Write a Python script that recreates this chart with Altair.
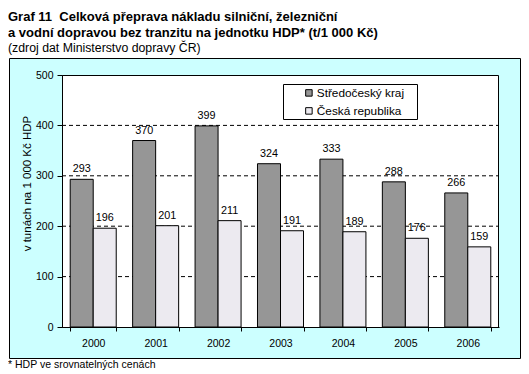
import altair as alt
import pandas as pd

years = ["2000", "2001", "2002", "2003", "2004", "2005", "2006"]
series_names = ["Středočeský kraj", "Česká republika"]
stredocesky = [293, 370, 399, 324, 333, 288, 266]
cr = [196, 201, 211, 191, 189, 176, 159]
grid_vals = [100, 200, 300, 400]
y_ticks = [0, 100, 200, 300, 400, 500]

title_lines = [
    "Graf 11\u00a0 Celková přeprava nákladu silniční, železniční",
    "a vodní dopravou bez tranzitu na jednotku HDP* (t/1 000 Kč)",
]
subtitle = "(zdroj dat Ministerstvo dopravy ČR)"
footnote = "* HDP ve srovnatelných cenách"
y_title = "v tunách na 1 000 Kč HDP"

FONT = "Liberation Sans"

rows = []
for i, y in enumerate(years):
    rows.append({"rok": y, "serie": series_names[0], "hodnota": stredocesky[i]})
    rows.append({"rok": y, "serie": series_names[1], "hodnota": cr[i]})
df = pd.DataFrame(rows)

one = pd.DataFrame({"a": [0]})

frame = alt.Chart(one).mark_rect(fill="#CCFFFF", stroke="black", strokeWidth=1).encode(
    x=alt.value(-52.5), x2=alt.value(458.5), y=alt.value(-16.5), y2=alt.value(283.5)
)
plot_bg = alt.Chart(one).mark_rect(fill="white", stroke="black", strokeWidth=1).encode(
    x=alt.value(0.5), x2=alt.value(436.5), y=alt.value(0.5), y2=alt.value(252.5)
)

yscale = alt.Scale(domain=[0, 500], nice=False)

yaxis = alt.Axis(
    values=y_ticks, tickSize=5, tickColor="black", domainColor="black",
    labelFont=FONT, labelFontSize=10.5, labelColor="black", labelPadding=4,
    grid=False, zindex=1, title=y_title, titleFont=FONT, titleFontSize=11.5,
    titleFontWeight=400, titleColor="black", titleX=-32, titleY=108,
    titleAngle=-90, titleBaseline="alphabetic",
)

grid = alt.Chart(pd.DataFrame({"hodnota": grid_vals})).mark_rule(
    stroke="black", strokeWidth=1, strokeDash=[4, 3]
).encode(
    y=alt.Y("hodnota:Q", scale=yscale, axis=yaxis),
    x=alt.value(0), x2=alt.value(437),
)

xscale = alt.Scale(paddingInner=0.263, paddingOuter=0.1315)
xaxis = alt.Axis(
    title=None, labelAngle=0, tickBand="extent", tickSize=4, tickColor="black",
    domainColor="black", labelFont=FONT, labelFontSize=10.5, labelColor="black",
    labelPadding=7, grid=False, zindex=1,
)

bars = alt.Chart(df).mark_bar(stroke="black", strokeWidth=1).encode(
    x=alt.X("rok:N", scale=xscale, axis=xaxis, sort=years),
    xOffset=alt.XOffset("serie:N", sort=series_names, scale=alt.Scale(paddingInner=0, paddingOuter=0)),
    y=alt.Y("hodnota:Q", scale=yscale, axis=yaxis),
    color=alt.Color(
        "serie:N",
        sort=series_names,
        scale=alt.Scale(domain=series_names, range=["#969696", "#ECEAF0"]),
        legend=alt.Legend(
            title=None, orient="none", legendX=241, legendY=12,
            symbolType="square", symbolSize=42, symbolStrokeColor="black",
            symbolStrokeWidth=1, labelFont=FONT, labelFontSize=11.8,
            labelColor="black", labelOffset=2, rowPadding=5, padding=0,
        ),
    ),
)

labels = alt.Chart(df).mark_text(
    baseline="alphabetic", dy=-7, font=FONT, fontSize=10.8, color="black"
).encode(
    x=alt.X("rok:N", scale=xscale, sort=years),
    xOffset=alt.XOffset("serie:N", sort=series_names),
    y=alt.Y("hodnota:Q", scale=yscale),
    text=alt.Text("hodnota:Q"),
)

legend_box = alt.Chart(one).mark_rect(fill="white", stroke="black", strokeWidth=1).encode(
    x=alt.value(221.5), x2=alt.value(355.5), y=alt.value(9.5), y2=alt.value(44.5)
)

foot = alt.Chart(one).mark_text(
    text=footnote, align="left", baseline="alphabetic", font=FONT, fontSize=10.5, color="black"
).encode(x=alt.value(-54), y=alt.value(293))

chart = alt.layer(frame, plot_bg, grid, bars, labels, legend_box, foot).properties(
    width=437,
    height=252,
    padding={"left": 54, "top": 67, "right": 22, "bottom": 47},
    autosize=alt.AutoSizeParams(type="none"),
    title=alt.TitleParams(
        text=title_lines, subtitle=subtitle, anchor="start", frame="group",
        dx=-54, offset=4, font=FONT, fontSize=13, fontWeight="bold",
        color="black", lineHeight=16, subtitleFont=FONT, subtitleFontSize=12.3,
        subtitleColor="black", subtitlePadding=2, subtitleFontWeight="normal",
    ),
).configure_view(stroke=None).configure(background="white")

chart.save("out.html", embed_options={"renderer": "svg", "actions": False})
